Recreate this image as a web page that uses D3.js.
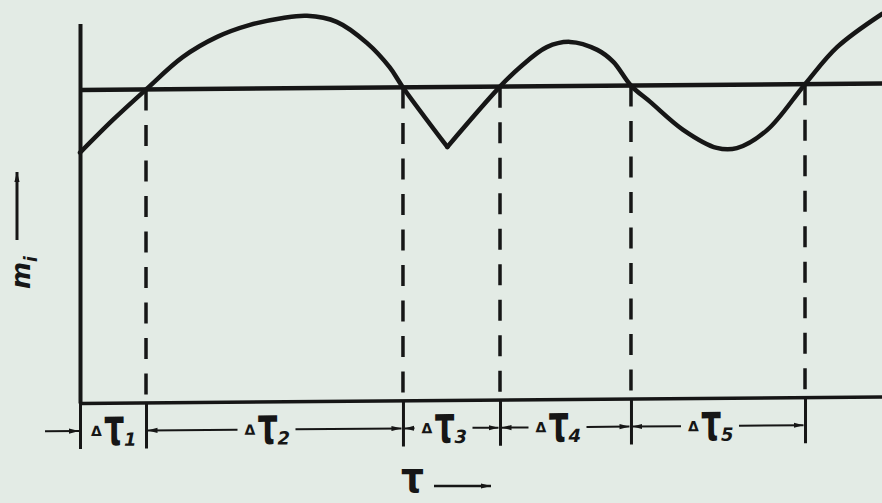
<!DOCTYPE html>
<html>
<head>
<meta charset="utf-8">
<script src="https://cdn.jsdelivr.net/npm/d3@7"></script>
<style>
  html, body { margin: 0; padding: 0; background: #e3ebe5; }
  svg { display: block; }
</style>
</head>
<body>
<svg id="chart" width="882" height="503"></svg>
<script>
// Interval boundaries on the time axis (tau), first one is the origin
const tauTicks = [0, 8.23, 40.27, 52.37, 68.7, 90.4];
// Critical level of m_i (the horizontal reference line)
const mThreshold = 80;
// Course of m_i over tau
const curveTau = [0, 4.1, 8.23, 12.8, 17.1, 21.2, 25.3, 28.3, 32.0, 35.8, 38.6, 40.27,
                  45.8, 52.37, 54.9, 58.2, 61.1, 64.5, 66.5, 68.7, 71.1, 75.2, 79.4,
                  81.9, 85.7, 90.4, 94.4, 100];
const curveM   = [64, 72.3, 80, 88.2, 93.3, 96.3, 98.0, 98.5, 96.9, 91.4, 85.2, 80,
                  64.7, 80, 85.0, 90.0, 91.3, 89.2, 86.1, 80, 75.8, 68.6, 63.9,
                  63.8, 68.4, 80, 89.4, 97.8];
// The dip between the 3rd and 4th crossing has a sharp corner
const cornerTau = 45.8;
// Interval subscripts
const intervalNames = ["1", "2", "3", "4", "5"];

const ink = "#161616";
const svg = d3.select("#chart");

svg.append("rect").attr("width", 882).attr("height", 503).attr("fill", "#e3ebe5");

const defs = svg.append("defs");
defs.append("marker")
  .attr("id", "head")
  .attr("viewBox", "0 -3 10 6")
  .attr("refX", 10).attr("refY", 0)
  .attr("markerWidth", 10).attr("markerHeight", 6)
  .attr("markerUnits", "userSpaceOnUse")
  .attr("orient", "auto")
  .append("path").attr("d", "M0,-2.6L10,0L0,2.6Z").attr("fill", ink);

const x = d3.scaleLinear().domain([0, 100]).range([80, 882]);
const y = d3.scaleLinear().domain([0, 97]).range([403, 23.5]);

// slight sheet slant of the drawing
const plot = svg.append("g").attr("transform", "translate(0,0.64) skewY(-0.458)");

// time axis with the interval boundary ticks hanging below it
const xAxis = plot.append("g")
  .attr("transform", `translate(0,${y(0)})`)
  .call(d3.axisBottom(x).tickValues(tauTicks).tickSize(46).tickSizeOuter(0).tickFormat(""));
xAxis.select(".domain").attr("stroke", ink).attr("stroke-width", 3.5);
xAxis.selectAll(".tick line").attr("stroke", ink).attr("stroke-width", 3);

// m_i axis
const yAxis = plot.append("g")
  .attr("transform", `translate(${x(0)},0)`)
  .call(d3.axisLeft(y).tickValues([]).tickSizeOuter(0));
yAxis.select(".domain").attr("stroke", ink).attr("stroke-width", 4);

// dashed drop lines from each crossing down to the time axis
plot.append("g").selectAll("line")
  .data(tauTicks.slice(1))
  .join("line")
  .attr("x1", d => x(d)).attr("x2", d => x(d))
  .attr("y1", y(mThreshold)).attr("y2", y(0))
  .attr("stroke", ink).attr("stroke-width", 3.5)
  .attr("stroke-dasharray", "21,14.5");

// reference level
plot.append("line")
  .attr("x1", x(0)).attr("x2", x(100))
  .attr("y1", y(mThreshold)).attr("y2", y(mThreshold))
  .attr("stroke", ink).attr("stroke-width", 4.5);

// m_i curve, drawn in two smooth pieces meeting at the corner
const pts = curveTau.map((t, i) => [t, curveM[i]]);
const line = d3.line()
  .x(d => x(d[0])).y(d => y(d[1]))
  .curve(d3.curveCatmullRom.alpha(0.5));
const pieces = [pts.filter(d => d[0] <= cornerTau), pts.filter(d => d[0] >= cornerTau)];
plot.append("g").selectAll("path")
  .data(pieces)
  .join("path")
  .attr("d", line)
  .attr("fill", "none")
  .attr("stroke", ink).attr("stroke-width", 4.5)
  .attr("stroke-linejoin", "round").attr("stroke-linecap", "round");

// interval dimension row
const rowY = 431;
const labelW = 44, gap = 7;
const row = plot.append("g");

row.append("line")
  .attr("x1", x(0) - 35).attr("x2", x(0) - 1)
  .attr("y1", rowY).attr("y2", rowY)
  .attr("stroke", ink).attr("stroke-width", 2)
  .attr("marker-end", "url(#head)");

intervalNames.forEach((name, i) => {
  const a = x(tauTicks[i]), b = x(tauTicks[i + 1]);
  const cx = (a + b) / 2 - (i ? 8 : 0);
  const x0 = cx - labelW / 2;
  const g = row.append("g").attr("fill", ink);
  g.append("text")
    .attr("x", x0).attr("y", rowY + 5)
    .attr("font-family", "DejaVu Sans").attr("font-weight", "bold").attr("font-size", 14)
    .text("Δ");
  g.append("text")
    .attr("transform", `translate(${x0 + 13},${rowY + 14}) scale(1,1.6)`)
    .attr("font-family", "DejaVu Sans").attr("font-weight", "bold").attr("font-size", 32)
    .text("τ");
  g.append("text")
    .attr("x", x0 + 33).attr("y", rowY + 15)
    .attr("font-family", "DejaVu Sans").attr("font-style", "italic").attr("font-weight", "bold")
    .attr("font-size", 18)
    .text(name);
  if (i > 0) {
    row.append("line")
      .attr("x1", x0 - gap).attr("x2", a + 1.5)
      .attr("y1", rowY).attr("y2", rowY)
      .attr("stroke", ink).attr("stroke-width", 2)
      .attr("marker-end", "url(#head)");
    row.append("line")
      .attr("x1", x0 + labelW + gap).attr("x2", b - 1.5)
      .attr("y1", rowY).attr("y2", rowY)
      .attr("stroke", ink).attr("stroke-width", 2)
      .attr("marker-end", "url(#head)");
  }
});

// axis titles
const tauTitle = svg.append("g");
tauTitle.append("text")
  .attr("transform", "translate(401,492) scale(1,1.2)")
  .attr("font-family", "DejaVu Sans").attr("font-weight", "bold").attr("font-size", 36).attr("fill", ink)
  .text("τ");
tauTitle.append("line")
  .attr("x1", 434).attr("x2", 491).attr("y1", 486).attr("y2", 486)
  .attr("stroke", ink).attr("stroke-width", 2.5)
  .attr("marker-end", "url(#head)");

const mTitle = svg.append("g");
const mt = mTitle.append("text")
  .attr("transform", "translate(30,289) rotate(-90)")
  .attr("font-family", "DejaVu Sans").attr("font-style", "italic").attr("font-weight", "bold")
  .attr("fill", ink);
mt.append("tspan").attr("font-size", 26).text("m");
mt.append("tspan").attr("font-size", 17).attr("dy", 7).text("i");
mTitle.append("line")
  .attr("x1", 17).attr("x2", 17).attr("y1", 240).attr("y2", 172)
  .attr("stroke", ink).attr("stroke-width", 3)
  .attr("marker-end", "url(#head)");
</script>
</body>
</html>
